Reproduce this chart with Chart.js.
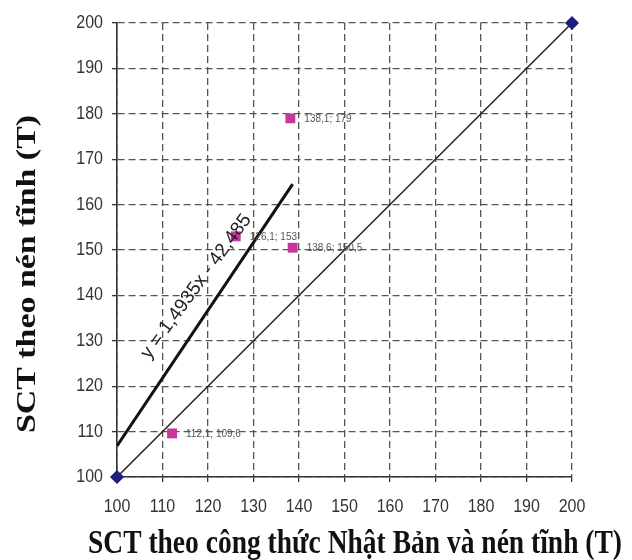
<!DOCTYPE html>
<html>
<head>
<meta charset="utf-8">
<script src="https://cdn.jsdelivr.net/npm/chart.js@4.4.0/dist/chart.umd.min.js"></script>
<style>
  html, body { margin: 0; padding: 0; background: #fff; }
  #wrap { width: 632px; height: 560px; }
</style>
</head>
<body>
<div id="wrap"><canvas id="sctChart" width="632" height="560"></canvas></div>
<script>
// measured SCT values (x: Japanese formula + static load, y: static load test)
const measuredX = [112.1, 126.1, 138.1, 138.6];
const measuredY = [109.6, 153, 179, 150.5];
const pointLabels = ['112,1; 109,6', '126,1; 153', '138,1; 179', '138,6; 150,5'];

// y = x reference line
const equalX = [100, 200];
const equalY = [100, 200];

// fitted trend line, as printed on the chart
const trendSlope = 1.4935;
const trendIntercept = -42.485;
const trendX = [100, 138.6];
const trendLabel = 'y = 1,4935x - 42,485';

const tickValues = [100, 110, 120, 130, 140, 150, 160, 170, 180, 190, 200];
const tickLabels = ['100', '110', '120', '130', '140', '150', '160', '170', '180', '190', '200'];
const xTitle = 'SCT theo công thức Nhật Bản và nén tĩnh (T)';
const yTitle = 'SCT theo nén tĩnh (T)';

const toPoints = (xs, ys) => xs.map((x, i) => ({ x: x, y: ys[i] }));

// text drawn with a separate horizontal / vertical scale
function stretchedText(ctx, text, x, y, sx, sy) {
  ctx.save();
  ctx.translate(x, y);
  ctx.scale(sx, sy);
  ctx.fillText(text, 0, 0);
  ctx.restore();
}

const extras = {
  id: 'extras',
  afterDraw(chart) {
    const ctx = chart.ctx;
    const xs = chart.scales.x, ys = chart.scales.y;

    // tick labels
    ctx.save();
    ctx.font = '16px "Liberation Sans", Arial, sans-serif';
    ctx.fillStyle = '#333';
    ctx.textBaseline = 'middle';
    ctx.textAlign = 'center';
    tickValues.forEach((v, i) => {
      stretchedText(ctx, tickLabels[i], xs.getPixelForValue(v), 507, 1, 1.15);
    });
    ctx.textAlign = 'right';
    tickValues.forEach((v, i) => {
      stretchedText(ctx, tickLabels[i], 103, ys.getPixelForValue(v), 1, 1.15);
    });
    ctx.restore();

    // value labels next to the measured points
    const meta = chart.getDatasetMeta(0);
    ctx.save();
    ctx.font = '10px "Liberation Sans", Arial, sans-serif';
    ctx.fillStyle = '#555';
    ctx.textBaseline = 'middle';
    meta.data.forEach((el, i) => {
      stretchedText(ctx, pointLabels[i], el.x + 14, el.y, 1, 1.15);
    });
    ctx.restore();

    // equation written along the trend line
    const x0 = xs.getPixelForValue(trendX[0]);
    const y0 = ys.getPixelForValue(trendSlope * trendX[0] + trendIntercept);
    const x1 = xs.getPixelForValue(trendX[1]);
    const y1 = ys.getPixelForValue(trendSlope * trendX[1] + trendIntercept);
    const ang = Math.atan2(y1 - y0, x1 - x0);
    const ax = 121.5;
    const px = xs.getPixelForValue(ax);
    const py = ys.getPixelForValue(trendSlope * ax + trendIntercept);
    ctx.save();
    ctx.translate(px, py);
    ctx.rotate(ang + 0.04);
    ctx.font = '19px "Liberation Sans", Arial, sans-serif';
    ctx.fillStyle = '#222';
    ctx.textAlign = 'center';
    ctx.textBaseline = 'middle';
    ctx.fillText(trendLabel, 0, -23);
    ctx.restore();

    // axis titles
    ctx.save();
    ctx.fillStyle = '#111';
    ctx.textAlign = 'center';
    ctx.textBaseline = 'alphabetic';
    ctx.font = 'bold 27px "Liberation Serif", "Times New Roman", serif';
    const xw = ctx.measureText(xTitle).width;
    stretchedText(ctx, xTitle, 355, 553, 534 / xw, 1.25);
    ctx.font = 'bold 28px "Liberation Serif", "Times New Roman", serif';
    const yw = ctx.measureText(yTitle).width;
    ctx.textBaseline = 'middle';
    ctx.translate(28, 274);
    ctx.rotate(-Math.PI / 2);
    stretchedText(ctx, yTitle, 0, 0, 318 / yw, 1);
    ctx.restore();
  }
};

const axisCommon = {
  type: 'linear',
  min: 100,
  max: 200,
  afterBuildTicks: (scale) => { scale.ticks = tickValues.map(v => ({ value: v })); },
  grid: {
    color: '#555',
    lineWidth: 1.3,
    tickLength: 5,
    tickColor: '#333',
    tickWidth: 1.3
  },
  border: { display: true, color: '#333', width: 1.6, dash: [7, 4] },
  ticks: { display: false }
};

const ctx = document.getElementById('sctChart').getContext('2d');

const sctChart = new Chart(ctx, {
  type: 'scatter',
  data: {
    datasets: [
      {
        label: 'measured',
        data: toPoints(measuredX, measuredY),
        pointStyle: 'rect',
        pointRadius: 7,
        backgroundColor: '#c8379b',
        borderColor: '#c8379b',
        borderWidth: 0,
        order: 0
      },
      {
        label: 'trend',
        data: toPoints(trendX, trendX.map(x => trendSlope * x + trendIntercept)),
        showLine: true,
        borderColor: '#111',
        borderWidth: 3,
        pointRadius: 0,
        order: 1
      },
      {
        label: 'y = x',
        data: toPoints(equalX, equalY),
        showLine: true,
        borderColor: '#222',
        borderWidth: 1.5,
        pointStyle: 'rectRot',
        pointRadius: 6,
        backgroundColor: '#1c1f80',
        pointBorderColor: '#1c1f80',
        clip: false,
        order: 2
      }
    ]
  },
  options: {
    responsive: false,
    animation: false,
    layout: { padding: { top: 23, right: 60, left: 0, bottom: 0 } },
    plugins: {
      legend: { display: false },
      tooltip: { enabled: false }
    },
    scales: {
      x: Object.assign({}, axisCommon, {
        afterFit: (scale) => { scale.height = 83; }
      }),
      y: Object.assign({}, axisCommon, {
        afterFit: (scale) => { scale.width = 117; }
      })
    }
  },
  plugins: [extras]
});
</script>
</body>
</html>
